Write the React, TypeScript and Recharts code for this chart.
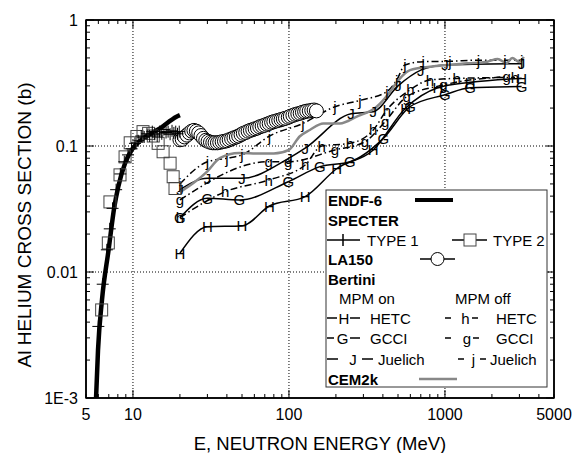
import React from 'react';
import { ComposedChart, Line, Scatter, XAxis, YAxis, ReferenceLine, ReferenceArea } from 'recharts';

const FONT = '"Liberation Sans", Arial, Helvetica, sans-serif';

// axis ticks
const xTicks = [5, 6, 7, 8, 9, 10, 20, 30, 40, 50, 60, 70, 80, 90, 100, 200, 300, 400, 500, 600, 700, 800, 900, 1000, 2000, 3000, 4000, 5000];
const xLabels = [5, 10, 100, 1000, 5000];
const xMajor = [10, 100, 1000];
const yTicks = [
  0.001, 0.002, 0.003, 0.004, 0.005, 0.006, 0.007, 0.008, 0.009,
  0.01, 0.02, 0.03, 0.04, 0.05, 0.06, 0.07, 0.08, 0.09,
  0.1, 0.2, 0.3, 0.4, 0.5, 0.6, 0.7, 0.8, 0.9, 1,
];
const yLabelValues = [0.001, 0.01, 0.1, 1];
const yLabelText = ['1E-3', '0.01', '0.1', '1'];
const X_DOMAIN = [5, 5000];
const Y_DOMAIN = [0.001, 1];

// ENDF-6 evaluation
const endf = [[5.8, 0.001], [5.97, 0.0024], [6.33, 0.006], [6.98, 0.015], [7.6, 0.033], [8.05, 0.0475], [8.9, 0.073], [9.8, 0.093], [11.65, 0.115], [14.9, 0.138], [19, 0.171], [20, 0.176]];

// SPECTER
const specter1 = [[6.0, 0.0037], [6.4, 0.008], [6.8, 0.015], [7.1, 0.022], [7.4, 0.032], [7.8, 0.045], [8.3, 0.06], [8.8, 0.075], [9.3, 0.085], [9.8, 0.095], [10.3, 0.105], [10.8, 0.11], [11.3, 0.12], [11.8, 0.118], [12.3, 0.125], [12.8, 0.12], [13.3, 0.13], [13.8, 0.124], [14.3, 0.12], [14.8, 0.13], [15.3, 0.125], [15.8, 0.135], [16.3, 0.128], [16.8, 0.13], [17.3, 0.124], [17.8, 0.132], [18.3, 0.127], [18.8, 0.13], [19.3, 0.125], [19.8, 0.13]];
const specter2 = [[6.3, 0.005], [6.95, 0.017], [7.12, 0.036], [8.26, 0.059], [8.9, 0.082], [9.6, 0.106], [10.6, 0.119], [11.6, 0.13], [12.6, 0.126], [13.5, 0.12], [14.5, 0.105], [15.6, 0.09], [17.3, 0.073], [18.1, 0.057], [18.6, 0.046]];

// LA150
const la150 = [[20, 0.112], [20.7, 0.113], [21.4, 0.118], [22.2, 0.122], [23, 0.127], [23.8, 0.131], [24.6, 0.133], [25.5, 0.131], [26.4, 0.127], [27.3, 0.121], [28.3, 0.115], [29.3, 0.111], [30.3, 0.109], [31.4, 0.107], [32.5, 0.106], [33.6, 0.106], [34.8, 0.106], [36, 0.107], [37.3, 0.108], [38.6, 0.109], [40, 0.11], [41.4, 0.112], [42.9, 0.114], [44.4, 0.116], [46, 0.118], [47.6, 0.12], [49.3, 0.123], [51, 0.126], [52.8, 0.128], [54.7, 0.131], [56.6, 0.133], [58.6, 0.135], [60.7, 0.137], [62.8, 0.139], [65, 0.142], [67.3, 0.144], [69.7, 0.146], [72.2, 0.149], [74.7, 0.151], [77.4, 0.154], [80, 0.156], [83, 0.158], [86, 0.16], [89, 0.162], [92, 0.164], [95, 0.166], [99, 0.169], [102, 0.172], [106, 0.175], [110, 0.178], [114, 0.18], [118, 0.182], [122, 0.185], [126, 0.187], [130, 0.189], [135, 0.19], [140, 0.192], [145, 0.193], [150, 0.19]];

// Bertini, MPM on
const hetcOn = [[20, 0.0141], [30, 0.0229], [50, 0.0232], [75, 0.0334], [127, 0.0396], [202, 0.066], [347, 0.093], [560, 0.2], [900, 0.29], [1450, 0.32], [3100, 0.345]];
const gcciOn = [[20, 0.027], [30, 0.0385], [48, 0.0373], [99, 0.052], [158, 0.0686], [246, 0.075], [403, 0.115], [597, 0.205], [1000, 0.255], [1450, 0.29], [3100, 0.296]];
const juelichOn = [[20, 0.045], [30, 0.0554], [50, 0.0554], [100, 0.08], [127, 0.096], [250, 0.18], [347, 0.187], [500, 0.3], [700, 0.4], [1000, 0.44], [3100, 0.45]];
// Bertini, MPM off
const hetcOff = [[20, 0.027], [39, 0.0434], [74, 0.0537], [127, 0.0707], [162, 0.1], [246, 0.105], [347, 0.134], [424, 0.193], [600, 0.28], [802, 0.334], [1189, 0.344], [2812, 0.35]];
const gcciOff = [[20, 0.0373], [74, 0.075], [99, 0.075], [197, 0.093], [307, 0.108], [413, 0.156], [568, 0.246], [977, 0.305], [2483, 0.355]];
const juelichOff = [[20, 0.05], [30, 0.075], [40, 0.08], [50, 0.085], [75, 0.12], [123, 0.151], [197, 0.205], [285, 0.23], [424, 0.27], [491, 0.334], [554, 0.44], [726, 0.467], [1077, 0.47], [1636, 0.48], [2420, 0.48], [3100, 0.48]];

// CEM2k
const cem2k = [[20, 0.043], [25, 0.052], [30, 0.063], [36, 0.08], [48, 0.088], [65, 0.087], [80, 0.087], [100, 0.093], [117, 0.119], [136, 0.134], [166, 0.151], [212, 0.151], [272, 0.171], [365, 0.205], [445, 0.27], [500, 0.33], [597, 0.4], [802, 0.426], [1038, 0.44], [1389, 0.453], [1868, 0.467], [2175, 0.49], [2483, 0.455], [2700, 0.5], [3000, 0.465], [3200, 0.51]];

const pts = (arr: number[][]) => arr.map(([x, y]) => ({ x, y }));

const endfPts = pts(endf);
const specter1Pts = pts(specter1);
const specter2Pts = pts(specter2);
const la150Pts = pts(la150);
const hetcOnPts = pts(hetcOn);
const gcciOnPts = pts(gcciOn);
const juelichOnPts = pts(juelichOn);
const hetcOffPts = pts(hetcOff);
const gcciOffPts = pts(gcciOff);
const juelichOffPts = pts(juelichOff);
const cem2kPts = pts(cem2k);

// plot box (from chart margins / axis sizes below)
const W = 575;
const H = 453;
const M = { top: 20, right: 21, bottom: 55, left: 86 };
const PL = M.left;
const PR = W - M.right;
const PT = M.top;
const PB = H - M.bottom;
const lx = (v: number) => PL + ((Math.log10(v) - Math.log10(X_DOMAIN[0])) / (Math.log10(X_DOMAIN[1]) - Math.log10(X_DOMAIN[0]))) * (PR - PL);
const ly = (v: number) => PB - ((Math.log10(v) - Math.log10(Y_DOMAIN[0])) / (Math.log10(Y_DOMAIN[1]) - Math.log10(Y_DOMAIN[0]))) * (PB - PT);

const DASHDOT = '7 3 1.5 3';

const letterDot = (ch: string) => (p: any) => (
  <text
    key={`${ch}-${p.index}`}
    x={p.cx}
    y={p.cy}
    textAnchor="middle"
    dominantBaseline="central"
    fontSize={15}
    fontFamily={FONT}
    fill="#000"
  >
    {ch}
  </text>
);
const dotH = letterDot('H');
const dotG = letterDot('G');
const dotJ = letterDot('J');
const doth = letterDot('h');
const dotg = letterDot('g');
const dotj = letterDot('j');

const BottomLabel = (props: any) => {
  const { x, y, payload } = props;
  const v = payload.value;
  if (!xLabels.includes(v)) return <g />;
  return (
    <text x={x} y={y + 16} textAnchor="middle" dominantBaseline="central" fontSize={16} fontFamily={FONT} fill="#000">
      {v}
    </text>
  );
};

const LeftLabel = (props: any) => {
  const { x, y, payload } = props;
  const i = yLabelValues.indexOf(payload.value);
  if (i < 0) return <g />;
  return (
    <text x={x - 8} y={y} textAnchor="end" dominantBaseline="central" fontSize={16} fontFamily={FONT} fill="#000">
      {yLabelText[i]}
    </text>
  );
};

const crossShape = (p: any) => (
  <g>
    <line x1={p.cx - 6} x2={p.cx + 6} y1={p.cy} y2={p.cy} stroke="#000" strokeWidth={1} />
    <line x1={p.cx} x2={p.cx} y1={p.cy - 6} y2={p.cy + 6} stroke="#000" strokeWidth={1} />
  </g>
);
const squareShape = (p: any) => (
  <rect x={p.cx - 6} y={p.cy - 6} width={12} height={12} fill="none" stroke="#444" strokeWidth={1} />
);
const circleShape = (p: any) => (
  <circle cx={p.cx} cy={p.cy} r={7} fill="#fff" stroke="#000" strokeWidth={1} />
);

// frame with inward ticks on all four sides
function Frame() {
  const s = { stroke: '#000', strokeWidth: 1 };
  return (
    <g>
      <line x1={PL} x2={PR} y1={PT} y2={PT} stroke="#000" strokeWidth={1.5} />
      <line x1={PR} x2={PR} y1={PT} y2={PB} stroke="#000" strokeWidth={1.5} />
      {xTicks.map((v) => {
        const x = lx(v);
        const len = xMajor.includes(v) ? 8 : 4;
        return (
          <g key={`xt${v}`}>
            <line x1={x} x2={x} y1={PB} y2={PB - len} {...s} />
            <line x1={x} x2={x} y1={PT} y2={PT + len} {...s} />
          </g>
        );
      })}
      {yTicks.map((v) => {
        const y = ly(v);
        const len = yLabelValues.includes(v) ? 8 : 4;
        return (
          <g key={`yt${v}`}>
            <line x1={PL} x2={PL + len} y1={y} y2={y} {...s} />
            <line x1={PR} x2={PR - len} y1={y} y2={y} {...s} />
          </g>
        );
      })}
    </g>
  );
}

function LegendBox() {
  const t = { fontFamily: FONT, fontSize: 15, fill: '#000', dominantBaseline: 'central' as const };
  const b = { ...t, fontWeight: 'bold' as const };
  const ln = { stroke: '#000', strokeWidth: 1.5 };
  return (
    <g>
      <rect x={326} y={190} width={221} height={197} fill="#fff" stroke="#333" strokeWidth={1} />
      <text x={328} y={200} {...b}>ENDF-6</text>
      <line x1={415} x2={453} y1={200} y2={200} stroke="#000" strokeWidth={4} />
      <text x={328} y={220} {...b}>SPECTER</text>
      <line x1={327} x2={360} y1={240} y2={240} {...ln} />
      <line x1={343} x2={343} y1={234} y2={246} {...ln} />
      <text x={367} y={240} {...t}>TYPE 1</text>
      <line x1={452} x2={487} y1={240} y2={240} {...ln} />
      <rect x={464} y={234} width={12} height={12} fill="#fff" stroke="#444" strokeWidth={1} />
      <text x={493} y={240} {...t}>TYPE 2</text>
      <text x={328} y={259} {...b}>LA150</text>
      <line x1={420} x2={455} y1={259} y2={259} {...ln} />
      <circle cx={437.5} cy={259} r={6.5} fill="#fff" stroke="#000" strokeWidth={1} />
      <text x={328} y={279} {...b}>Bertini</text>
      <text x={339} y={298} {...t}>MPM on</text>
      <text x={455} y={298} {...t}>MPM off</text>

      <line x1={327} x2={337} y1={318} y2={318} {...ln} />
      <text x={344} y={318} {...t} textAnchor="middle">H</text>
      <line x1={350} x2={360} y1={318} y2={318} {...ln} />
      <text x={370} y={318} {...t}>HETC</text>
      <line x1={445} x2={451} y1={318} y2={318} {...ln} />
      <text x={465.5} y={318} {...t} textAnchor="middle">h</text>
      <line x1={472} x2={478} y1={318} y2={318} {...ln} />
      <text x={496} y={318} {...t}>HETC</text>

      <line x1={327} x2={334} y1={338} y2={338} {...ln} />
      <text x={342.5} y={338} {...t} textAnchor="middle">G</text>
      <line x1={350} x2={360} y1={338} y2={338} {...ln} />
      <text x={370} y={338} {...t}>GCCI</text>
      <line x1={445} x2={451} y1={338} y2={338} {...ln} />
      <text x={467} y={338} {...t} textAnchor="middle">g</text>
      <line x1={473} x2={479} y1={338} y2={338} {...ln} />
      <text x={496} y={338} {...t}>GCCI</text>

      <line x1={327} x2={338} y1={359} y2={359} {...ln} />
      <text x={353} y={359} {...t} textAnchor="middle">J</text>
      <line x1={362} x2={373} y1={359} y2={359} {...ln} />
      <text x={378} y={359} {...t}>Juelich</text>
      <line x1={458} x2={464} y1={359} y2={359} {...ln} />
      <text x={473.5} y={359} {...t} textAnchor="middle">j</text>
      <line x1={480} x2={486} y1={359} y2={359} {...ln} />
      <text x={490} y={359} {...t}>Juelich</text>

      <text x={328} y={379} {...b}>CEM2k</text>
      <line x1={419} x2={457} y1={379} y2={379} stroke="#888" strokeWidth={2.5} />
    </g>
  );
}

export default function App() {
  return (
    <div style={{ position: 'absolute', left: 0, top: 0 }}>
      <ComposedChart width={W} height={H} margin={{ top: M.top, right: M.right, bottom: 0, left: 0 }}>
        <XAxis
          dataKey="x"
          type="number"
          scale="log"
          domain={X_DOMAIN}
          allowDataOverflow
          ticks={xTicks}
          interval={0}
          tickSize={0}
          tickMargin={0}
          height={M.bottom}
          axisLine={{ stroke: '#000', strokeWidth: 1.5 }}
          tickLine={false}
          tick={<BottomLabel />}
        />
        <YAxis
          dataKey="y"
          type="number"
          scale="log"
          domain={Y_DOMAIN}
          allowDataOverflow
          ticks={yTicks}
          interval={0}
          tickSize={0}
          tickMargin={0}
          width={M.left}
          axisLine={{ stroke: '#000', strokeWidth: 1.5 }}
          tickLine={false}
          tick={<LeftLabel />}
        />

        <ReferenceArea x1={5} x2={5000} y1={0.001} y2={1} fill="none" fillOpacity={0} stroke="#000" strokeWidth={1.5} />
        <ReferenceLine x={10} stroke="#000" strokeWidth={1} strokeDasharray="1 2" />
        <ReferenceLine x={100} stroke="#000" strokeWidth={1} strokeDasharray="1 2" />
        <ReferenceLine x={1000} stroke="#000" strokeWidth={1} strokeDasharray="1 2" />
        <ReferenceLine y={0.01} stroke="#000" strokeWidth={1} strokeDasharray="1 2" />
        <ReferenceLine y={0.1} stroke="#000" strokeWidth={1} strokeDasharray="1 2" />

        <Line data={hetcOnPts} dataKey="y" type="monotone" stroke="#000" strokeWidth={1.5} dot={dotH} activeDot={false} isAnimationActive={false} />
        <Line data={gcciOnPts} dataKey="y" type="monotone" stroke="#000" strokeWidth={1.5} dot={dotG} activeDot={false} isAnimationActive={false} />
        <Line data={juelichOnPts} dataKey="y" type="monotone" stroke="#000" strokeWidth={1.5} dot={dotJ} activeDot={false} isAnimationActive={false} />
        <Line data={hetcOffPts} dataKey="y" type="monotone" stroke="#000" strokeWidth={1.5} strokeDasharray={DASHDOT} dot={doth} activeDot={false} isAnimationActive={false} />
        <Line data={gcciOffPts} dataKey="y" type="monotone" stroke="#000" strokeWidth={1.5} strokeDasharray={DASHDOT} dot={dotg} activeDot={false} isAnimationActive={false} />
        <Line data={juelichOffPts} dataKey="y" type="monotone" stroke="#000" strokeWidth={1.5} strokeDasharray={DASHDOT} dot={dotj} activeDot={false} isAnimationActive={false} />
        <Line data={cem2kPts} dataKey="y" type="monotone" stroke="#888" strokeWidth={2.5} dot={false} activeDot={false} isAnimationActive={false} />
        <Line data={endfPts} dataKey="y" type="monotone" stroke="#000" strokeWidth={4.5} dot={false} activeDot={false} isAnimationActive={false} />

        <Scatter data={la150Pts} dataKey="y" shape={circleShape} isAnimationActive={false} />
        <Scatter data={specter2Pts} dataKey="y" shape={squareShape} isAnimationActive={false} />
        <Scatter data={specter1Pts} dataKey="y" shape={crossShape} isAnimationActive={false} />
      </ComposedChart>

      <svg width={W} height={H} style={{ position: 'absolute', left: 0, top: 0, pointerEvents: 'none' }}>
        <Frame />
        <LegendBox />
        <text x={320} y={443} textAnchor="middle" dominantBaseline="central" fontSize={18.5} fontFamily={FONT} fill="#000">
          E, NEUTRON ENERGY (MeV)
        </text>
        <text
          x={24}
          y={225}
          transform="rotate(-90 24 225)"
          textAnchor="middle"
          dominantBaseline="central"
          fontSize={19}
          fontFamily={FONT}
          fill="#000"
        >
          Al HELIUM CROSS SECTION (b)
        </text>
      </svg>
    </div>
  );
}
